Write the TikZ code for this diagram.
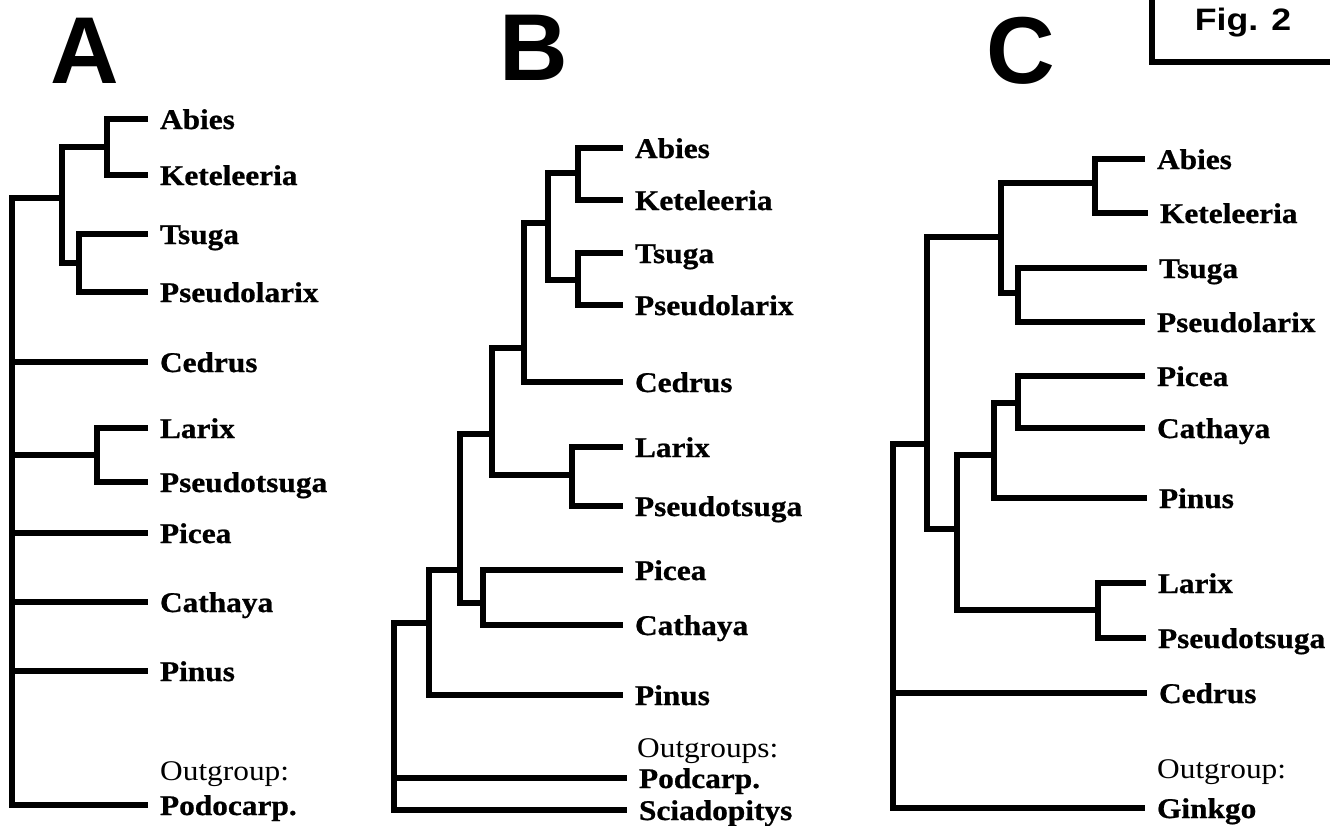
\documentclass[tikz,border=0pt]{standalone}
\usepackage{fontspec}
\usepackage{tikz}
\newfontfamily\taxfont{Liberation Serif}[FakeStretch=1.1]
\newfontfamily\taxbold{Liberation Serif Bold}[FakeStretch=1.1, FakeBold=0.8]
\newfontfamily\panelfont{Liberation Sans}
\newfontfamily\figfont{Liberation Sans}[FakeStretch=1.15]

\tikzset{
  branch/.style={line width=5.5pt, line join=miter},
  taxon/.style={font=\taxbold\fontsize{28.5}{30}\selectfont, anchor=west,
    inner sep=0pt, outer xsep=12pt, text height=20pt, text depth=0pt},
  outlbl/.style={font=\taxfont\fontsize{28.5}{30}\selectfont, anchor=base west, inner sep=0pt},
  panel/.style={font=\panelfont\bfseries\fontsize{95}{100}\selectfont, anchor=base, inner sep=0pt},
}

\begin{document}
\begin{tikzpicture}[x=1pt, y=-1pt]
\useasboundingbox (0,0) rectangle (1330,825);

\node[panel] (pA) at (85,83) {A};
\node[panel] (pB) at (534,80) {B};
\node[panel] (pC) at (1021,83) {C};

\coordinate (figL) at (1152,0);
\coordinate (figC) at (1152,62);
\coordinate (figR) at (1332,62);
\draw[branch] (figL) -- (figC) -- (figR);
\node[font=\figfont\bfseries\fontsize{31}{32}\selectfont, anchor=base, inner sep=0pt] (fig) at (1243,30) {Fig. 2};

% tree A
\node[taxon] (AAbies) at (148,119) {Abies};
\node[taxon] (AKete) at (148,175) {Keteleeria};
\node[taxon] (ATsuga) at (148,234) {Tsuga};
\node[taxon] (APseudol) at (148,292) {Pseudolarix};
\node[taxon] (ACedrus) at (148,362) {Cedrus};
\node[taxon] (ALarix) at (148,428) {Larix};
\node[taxon] (APseudots) at (148,482) {Pseudotsuga};
\node[taxon] (APicea) at (148,533) {Picea};
\node[taxon] (ACathaya) at (148,602) {Cathaya};
\node[taxon] (APinus) at (148,671) {Pinus};
\node[outlbl] (AOut) at (160,780) {Outgroup:};
\node[taxon] (APodo) at (148,805) {Podocarp.};

\coordinate (nAK) at (107,147);
\coordinate (nTP) at (79,263);
\coordinate (nAKTP) at (62,198);
\coordinate (nLP) at (97,455);
\coordinate (rA) at (12,500);

\draw[branch] (AAbies.west) -| (nAK) |- (AKete.west);
\draw[branch] (ATsuga.west) -| (nTP) |- (APseudol.west);
\draw[branch] (nAK) -| (nAKTP) |- (nTP);
\draw[branch] (ALarix.west) -| (nLP) |- (APseudots.west);
\draw[branch] (nAKTP) -| (rA) |- (APodo.west);
\draw[branch] (rA |- ACedrus.west) -- (ACedrus.west);
\draw[branch] (rA |- nLP) -- (nLP);
\draw[branch] (rA |- APicea.west) -- (APicea.west);
\draw[branch] (rA |- ACathaya.west) -- (ACathaya.west);
\draw[branch] (rA |- APinus.west) -- (APinus.west);

% tree B
\node[taxon] (BAbies) at (623,148) {Abies};
\node[taxon] (BKete) at (623,200) {Keteleeria};
\node[taxon] (BTsuga) at (623,253) {Tsuga};
\node[taxon] (BPseudol) at (623,305) {Pseudolarix};
\node[taxon] (BCedrus) at (623,382) {Cedrus};
\node[taxon] (BLarix) at (623,447) {Larix};
\node[taxon] (BPseudots) at (623,506) {Pseudotsuga};
\node[taxon] (BPicea) at (623,570) {Picea};
\node[taxon] (BCathaya) at (623,625) {Cathaya};
\node[taxon] (BPinus) at (623,695) {Pinus};
\node[outlbl] (BOut) at (637,757) {Outgroups:};
\node[taxon] (BPodc) at (627,778) {Podcarp.};
\node[taxon] (BSciad) at (627,810) {Sciadopitys};

\coordinate (mAK) at (578,173);
\coordinate (mTP) at (578,280);
\coordinate (mAKTP) at (548,223);
\coordinate (mC1) at (524,348);
\coordinate (mLP) at (572,475);
\coordinate (mC2) at (492,434);
\coordinate (mPC) at (483,603);
\coordinate (mC3) at (460,570);
\coordinate (mC4) at (429,623);
\coordinate (rB) at (394,700);

\draw[branch] (BAbies.west) -| (mAK) |- (BKete.west);
\draw[branch] (BTsuga.west) -| (mTP) |- (BPseudol.west);
\draw[branch] (mAK) -| (mAKTP) |- (mTP);
\draw[branch] (mAKTP) -| (mC1) |- (BCedrus.west);
\draw[branch] (BLarix.west) -| (mLP) |- (BPseudots.west);
\draw[branch] (mC1) -| (mC2) |- (mLP);
\draw[branch] (BPicea.west) -| (mPC) |- (BCathaya.west);
\draw[branch] (mC2) -| (mC3) |- (mPC);
\draw[branch] (mC3) -| (mC4) |- (BPinus.west);
\draw[branch] (mC4) -| (rB) |- (BSciad.west);
\draw[branch] (rB |- BPodc.west) -- (BPodc.west);

% tree C
\node[taxon] (CAbies) at (1145,159) {Abies};
\node[taxon] (CKete) at (1148,213) {Keteleeria};
\node[taxon] (CTsuga) at (1147,268) {Tsuga};
\node[taxon] (CPseudol) at (1145,322) {Pseudolarix};
\node[taxon] (CPicea) at (1145,376) {Picea};
\node[taxon] (CCathaya) at (1145,428) {Cathaya};
\node[taxon] (CPinus) at (1147,498) {Pinus};
\node[taxon] (CLarix) at (1146,583) {Larix};
\node[taxon] (CPseudots) at (1146,638) {Pseudotsuga};
\node[taxon] (CCedrus) at (1147,693) {Cedrus};
\node[outlbl] (COut) at (1157,778) {Outgroup:};
\node[taxon] (CGinkgo) at (1145,808) {Ginkgo};

\coordinate (kAK) at (1095,183);
\coordinate (kTP) at (1018,293);
\coordinate (kAKTP) at (1001,237);
\coordinate (kPC) at (1018,403);
\coordinate (kPCP) at (994,455);
\coordinate (kLP) at (1098,610);
\coordinate (kC2) at (957,529);
\coordinate (kC1) at (927,444);
\coordinate (rC) at (893,600);

\draw[branch] (CAbies.west) -| (kAK) |- (CKete.west);
\draw[branch] (CTsuga.west) -| (kTP) |- (CPseudol.west);
\draw[branch] (kAK) -| (kAKTP) |- (kTP);
\draw[branch] (CPicea.west) -| (kPC) |- (CCathaya.west);
\draw[branch] (kPC) -| (kPCP) |- (CPinus.west);
\draw[branch] (CLarix.west) -| (kLP) |- (CPseudots.west);
\draw[branch] (kPCP) -| (kC2) |- (kLP);
\draw[branch] (kAKTP) -| (kC1) |- (kC2);
\draw[branch] (kC1) -| (rC) |- (CGinkgo.west);
\draw[branch] (rC |- CCedrus.west) -- (CCedrus.west);
\end{tikzpicture}
\end{document}
